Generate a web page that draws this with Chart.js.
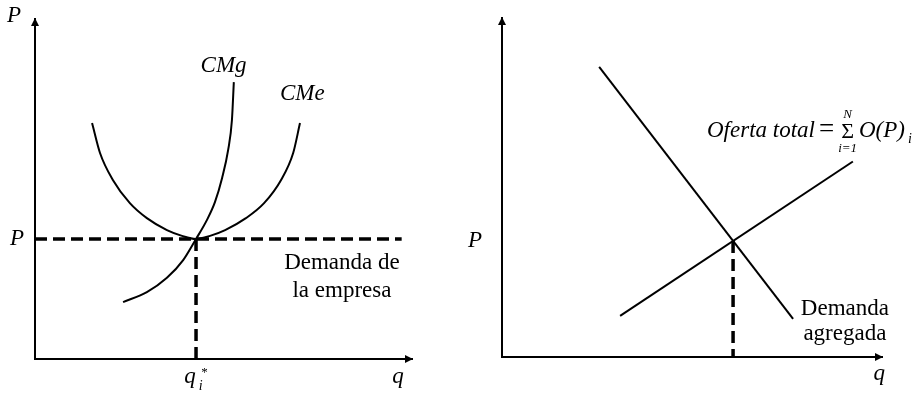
<!DOCTYPE html>
<html>
<head>
<meta charset="utf-8">
<script src="https://cdn.jsdelivr.net/npm/chart.js@4"></script>
<style>
  body { margin: 0; background: #fff; }
  #wrap { position: relative; width: 922px; height: 393px; }
  .panel { position: absolute; top: 0; width: 461px; height: 393px; }
</style>
</head>
<body>
<div id="wrap">
  <div class="panel" style="left:0"><canvas id="firmChart"></canvas></div>
  <div class="panel" style="left:461px"><canvas id="marketChart"></canvas></div>
</div>
<script>
// Firm: average cost (CMe) and marginal cost (CMg)
const cmeQ = [15.1, 17.2, 20.6, 25.1, 29.6, 34.9, 38.9, 42.6, 46.3, 50.3, 55.8, 60.6, 65.1, 68.3, 70.1];
const cmeP = [69.2, 60.4, 52.5, 45.7, 41.3, 37.8, 36.1, 35.2, 36.1, 37.8, 41.3, 45.7, 52.5, 60.4, 69.2];
const cmgQ = [23.3, 29.6, 34.9, 39.2, 42.6, 45.5, 47.6, 49.5, 51.1, 52.1, 52.6];
const cmgP = [16.7, 19.6, 23.8, 29.0, 35.2, 40.8, 46.0, 53.1, 61.3, 70.1, 81.2];
const firmPrice = 35.2;
const qStar = 42.6;
const firmDemandEnd = 97;

// Market: aggregate demand and total supply
const demandQ = [25.5, 76.4];
const demandP = [85.3, 11.2];
const supplyQ = [31.0, 92.1];
const supplyP = [12.1, 57.5];

const SERIF = '"Liberation Serif", "Times New Roman", serif';

function toPoints(xs, ys) {
  return xs.map((x, i) => ({ x: x, y: ys[i] }));
}

// intersection of the two market lines
function lineAt(qs, ps, q) {
  const m = (ps[1] - ps[0]) / (qs[1] - qs[0]);
  return ps[0] + m * (q - qs[0]);
}
const mD = (demandP[1] - demandP[0]) / (demandQ[1] - demandQ[0]);
const mS = (supplyP[1] - supplyP[0]) / (supplyQ[1] - supplyQ[0]);
const qEq = (supplyP[0] - mS * supplyQ[0] - demandP[0] + mD * demandQ[0]) / (mD - mS);
const pEq = lineAt(demandQ, demandP, qEq);

function lineSet(data, extra) {
  return Object.assign({
    data: data,
    showLine: true,
    borderColor: '#000',
    borderWidth: 2,
    pointRadius: 0,
    tension: 0,
    clip: false
  }, extra || {});
}

function dashed(data) {
  return lineSet(data, { borderWidth: 3.5, borderDash: [12, 6] });
}

function axesSet() {
  return lineSet([{ x: 0, y: 100 }, { x: 0, y: 0 }, { x: 100, y: 0 }]);
}

// Draw text at data coordinates
function label(chart, text, q, p, font, align, baseline) {
  const ctx = chart.ctx;
  ctx.save();
  ctx.font = font;
  ctx.fillStyle = '#000';
  ctx.textAlign = align || 'left';
  ctx.textBaseline = baseline || 'alphabetic';
  ctx.fillText(text, chart.scales.x.getPixelForValue(q), chart.scales.y.getPixelForValue(p));
  ctx.restore();
}

function arrowHeads(chart) {
  const ctx = chart.ctx;
  const xs = chart.scales.x, ys = chart.scales.y;
  const ox = xs.getPixelForValue(0), oy = ys.getPixelForValue(0);
  const tx = xs.getPixelForValue(100), ty = ys.getPixelForValue(100);
  ctx.save();
  ctx.fillStyle = '#000';
  ctx.beginPath();
  ctx.moveTo(tx, oy);
  ctx.lineTo(tx - 8, oy - 4);
  ctx.lineTo(tx - 8, oy + 4);
  ctx.closePath();
  ctx.fill();
  ctx.beginPath();
  ctx.moveTo(ox, ty);
  ctx.lineTo(ox - 4, ty + 8);
  ctx.lineTo(ox + 4, ty + 8);
  ctx.closePath();
  ctx.fill();
  ctx.restore();
}

function baseOptions(padding) {
  return {
    responsive: true,
    maintainAspectRatio: false,
    animation: false,
    layout: { padding: padding },
    plugins: { legend: { display: false }, tooltip: { enabled: false } },
    scales: {
      x: { type: 'linear', min: 0, max: 100, display: false },
      y: { type: 'linear', min: 0, max: 100, display: false }
    }
  };
}

const italic = 'italic 23px ' + SERIF;
const roman = '23px ' + SERIF;

// Left chart
new Chart(document.getElementById('firmChart'), {
  type: 'scatter',
  data: {
    datasets: [
      axesSet(),
      lineSet(toPoints(cmeQ, cmeP), { cubicInterpolationMode: 'monotone' }),
      lineSet(toPoints(cmgQ, cmgP), { cubicInterpolationMode: 'monotone' }),
      dashed([{ x: 0, y: firmPrice }, { x: firmDemandEnd, y: firmPrice }]),
      dashed([{ x: qStar, y: firmPrice }, { x: qStar, y: 0 }])
    ]
  },
  options: baseOptions({ left: 35, right: 48, top: 18, bottom: 34 }),
  plugins: [{
    id: 'firmLabels',
    afterDraw(chart) {
      arrowHeads(chart);
      label(chart, 'P', -7.4, 98.8, italic);
      label(chart, 'P', -6.6, firmPrice, italic, 'left', 'middle');
      label(chart, 'CMg', 49.9, 84.2, italic, 'center');
      label(chart, 'CMe', 64.8, 76.0, italic);
      label(chart, 'Demanda de', 81.2, 26.4, roman, 'center');
      label(chart, 'la empresa', 81.2, 18.2, roman, 'center');
      label(chart, 'q', 96, -7.0, italic, 'center');
      label(chart, 'q', 41, -7.0, italic, 'center');
      label(chart, 'i', 43.3, -9.2, 'italic 14px ' + SERIF);
      label(chart, '*', 44.0, -5.0, '13px ' + SERIF);
    }
  }]
});

// Right chart
new Chart(document.getElementById('marketChart'), {
  type: 'scatter',
  data: {
    datasets: [
      axesSet(),
      lineSet(toPoints(demandQ, demandP)),
      lineSet(toPoints(supplyQ, supplyP)),
      dashed([{ x: qEq, y: pEq }, { x: qEq, y: 0 }])
    ]
  },
  options: baseOptions({ left: 41, right: 39, top: 17, bottom: 36 }),
  plugins: [{
    id: 'marketLabels',
    afterDraw(chart) {
      arrowHeads(chart);
      label(chart, 'P', -8.9, pEq, italic, 'left', 'middle');
      label(chart, 'q', 99, -6.8, italic, 'center');
      label(chart, 'Demanda', 90, 12.4, roman, 'center');
      label(chart, 'agregada', 90, 5.0, roman, 'center');

      // Oferta total = sum_{i=1}^{N} O(P)_i
      const ctx = chart.ctx;
      const xs = chart.scales.x, ys = chart.scales.y;
      let x = xs.getPixelForValue(53.8);
      const y = ys.getPixelForValue(64.8);
      ctx.save();
      ctx.fillStyle = '#000';
      ctx.textBaseline = 'alphabetic';
      ctx.font = italic;
      ctx.fillText('Oferta total', x, y);
      x += ctx.measureText('Oferta total').width + 4;
      ctx.font = '27px ' + SERIF;
      ctx.fillText('=', x, y);
      x += ctx.measureText('=').width + 7;
      ctx.font = '22px ' + SERIF;
      const sw = ctx.measureText('\u03A3').width;
      ctx.fillText('\u03A3', x, y + 1);
      ctx.textAlign = 'center';
      ctx.font = 'italic 13px ' + SERIF;
      ctx.fillText('N', x + sw / 2, y - 19);
      ctx.fillText('i=1', x + sw / 2, y + 15);
      ctx.textAlign = 'left';
      x += sw + 5;
      ctx.font = italic;
      ctx.fillText('O(P)', x, y);
      x += ctx.measureText('O(P)').width + 3;
      ctx.font = 'italic 14px ' + SERIF;
      ctx.fillText('i', x, y + 6);
      ctx.restore();
    }
  }]
});
</script>
</body>
</html>
